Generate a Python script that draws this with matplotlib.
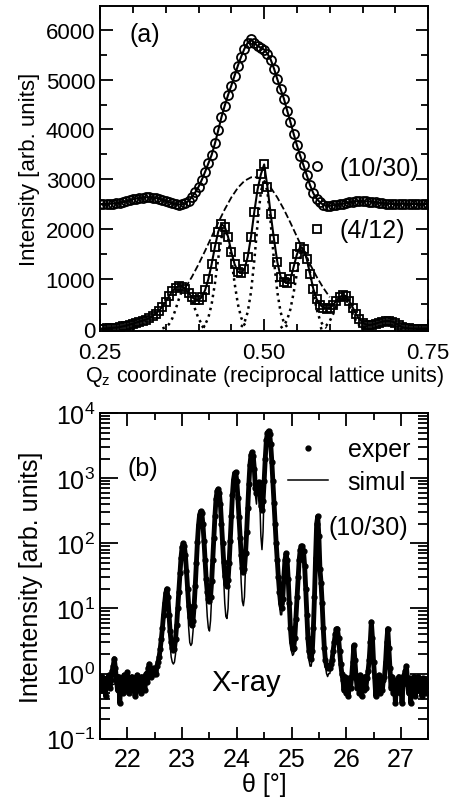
import matplotlib
matplotlib.use('Agg')
import matplotlib.pyplot as plt
import numpy as np
from matplotlib.ticker import MultipleLocator, LogLocator, NullFormatter
from matplotlib.lines import Line2D

plt.rcParams['font.family'] = ['Liberation Sans', 'DejaVu Sans']
plt.rcParams['mathtext.fontset'] = 'custom'
plt.rcParams['mathtext.rm'] = 'Liberation Sans'
plt.rcParams['mathtext.it'] = 'Liberation Sans:italic'

# ---- panel (a): Qz scans ----
qz = np.round(np.arange(0.25, 0.7501, 0.005), 3)

int_10_30 = [
    2500, 2500, 2505, 2510, 2515, 2520, 2530, 2545, 2560, 2580,
    2600, 2615, 2625, 2635, 2640, 2640, 2635, 2625, 2610, 2590,
    2570, 2545, 2520, 2505, 2495, 2500, 2520, 2570, 2650, 2740,
    2850, 2990, 3150, 3320, 3490, 3720, 3980, 4250, 4480, 4690,
    4880, 5080, 5280, 5460, 5620, 5740, 5810, 5740, 5670, 5640,
    5600, 5520, 5400, 5220, 5010, 4810, 4620, 4380, 4150, 3910,
    3680, 3470, 3280, 3080, 2880, 2720, 2610, 2540, 2490, 2470,
    2470, 2480, 2490, 2500, 2510, 2525, 2540, 2550, 2560, 2565,
    2565, 2560, 2555, 2550, 2540, 2530, 2520, 2515, 2510, 2505,
    2505, 2505, 2510, 2510, 2505, 2505, 2505, 2505, 2505, 2505,
    2505,
]

int_4_12 = [
    10, 10, 15, 20, 25, 30, 40, 55, 70, 90,
    110, 130, 150, 170, 190, 220, 260, 310, 370, 450,
    550, 660, 760, 830, 860, 850, 800, 720, 640, 590,
    580, 640, 780, 1000, 1300, 1650, 1950, 2100, 2050, 1850,
    1550, 1300, 1150, 1120, 1200, 1450, 1850, 2350, 2800, 3100,
    3300, 2850, 2300, 1800, 1350, 1050, 950, 920, 1000, 1250,
    1500, 1650, 1600, 1400, 1100, 800, 600, 490, 430, 410,
    420, 480, 570, 640, 680, 660, 560, 430, 300, 200,
    130, 90, 80, 90, 110, 130, 150, 160, 160, 150,
    120, 80, 40, 20, 15, 10, 10, 10, 10, 10,
    10,
]

# dashed envelope
env_q = np.round(np.arange(0.38, 0.6001, 0.01), 2)
env_int = [827, 1048, 1297, 1567, 1850, 2132, 2400, 2638, 2833, 2970, 3041,
           3041, 2970, 2833, 2638, 2400, 2132, 1850, 1567, 1297, 1048, 827, 638]

# dotted components (centres 0.38, 0.44, 0.50, 0.56, 0.62)
comp_offsets = np.round(np.arange(-0.035, 0.0351, 0.005), 3)
comp_centres = [0.38, 0.44, 0.50, 0.56, 0.62]
comp_int = [
    [12, 37, 97, 212, 389, 601, 779, 850, 779, 601, 389, 212, 97, 37, 12],
    [28, 88, 228, 498, 916, 1414, 1834, 2000, 1834, 1414, 916, 498, 228, 88, 28],
    [42, 132, 342, 747, 1374, 2121, 2751, 3000, 2751, 2121, 1374, 747, 342, 132, 42],
    [22, 70, 182, 398, 733, 1131, 1467, 1600, 1467, 1131, 733, 398, 182, 70, 22],
    [9, 29, 74, 162, 298, 460, 596, 650, 596, 460, 298, 162, 74, 29, 9],
]

# ---- panel (b): X-ray theta scan ----
theta = np.round(np.arange(21.5, 27.501, 0.02), 2)

exper = [
    0.75, 0.55, 0.9, 0.6, 0.8, 0.45, 0.85, 0.65, 0.95, 0.6,
    0.8, 1.1, 1.3, 1.7, 1.2, 0.8, 0.55, 0.9, 0.35, 0.7,
    0.85, 0.5, 0.95, 0.6, 0.75, 1.05, 0.5, 0.8, 0.65, 0.9,
    0.55, 0.85, 0.45, 0.75, 0.95, 0.6, 0.8, 0.5, 0.9, 0.7,
    0.85, 0.55, 1.0, 0.75, 1.2, 1.4, 1.1, 0.9, 1.2, 1.0,
    1.1, 1.0, 1.3, 1.5, 1.8, 2.4, 3.4, 5, 8, 12,
    17, 20, 15, 8, 4.5, 3.0, 2.5, 2.3, 2.4, 3.4,
    5.5, 10, 18, 35, 60, 88, 100, 92, 65, 38,
    20, 11, 7.5, 6, 5.5, 6.5, 11, 22, 50, 105,
    190, 275, 310, 290, 200, 110, 55, 28, 18, 14,
    13, 15, 26, 55, 120, 260, 480, 640, 680, 600,
    400, 200, 100, 52, 32, 24, 22, 27, 50, 110,
    260, 560, 950, 1200, 1230, 900, 500, 250, 120, 65,
    42, 36, 40, 70, 150, 350, 800, 1600, 2300, 2500,
    2200, 1400, 700, 600, 850, 870, 600, 380, 330, 450,
    900, 2000, 3800, 5000, 5300, 4800, 3300, 1800, 900, 420,
    200, 100, 55, 30, 18, 12, 10, 14, 30, 55,
    70, 55, 28, 12, 5, 3, 2.4, 2.5, 3.5, 7,
    15, 30, 55, 80, 90, 90, 75, 45, 20, 8,
    3.5, 2.2, 1.8, 1.7, 2.2, 5, 15, 60, 200, 260,
    130, 40, 25, 12, 5, 2.5, 1.6, 1.3, 1.2, 1.3,
    1.2, 1.4, 1.6, 2.2, 3.0, 4.0, 4.8, 4.9, 3.5, 2.2,
    1.4, 1.0, 0.8, 0.55, 0.9, 0.5, 0.75, 0.45, 0.85, 0.6,
    0.9, 1.5, 2.7, 1.6, 0.9, 0.6, 0.8, 0.5, 0.95, 0.45,
    0.8, 0.55, 0.9, 0.6, 0.85, 1.1, 1.6, 3.0, 6.2, 3.5,
    1.5, 0.9, 0.45, 0.8, 0.6, 0.95, 0.5, 0.85, 0.55, 0.8,
    0.9, 1.5, 3.0, 4.9, 2.5, 1.2, 0.6, 0.9, 0.5, 0.8,
    0.35, 0.75, 0.55, 0.9, 0.5, 0.85, 0.35, 0.7, 0.95, 1.1,
    1.3, 0.8, 0.5, 0.85, 0.35, 0.75, 0.6, 0.9, 0.45, 0.8,
    0.55, 0.9, 0.6, 0.75, 0.45, 0.85, 0.6, 0.8, 0.5, 0.7,
    0.65,
]

simul = [
    0.55, 0.56, 0.57, 0.58, 0.6, 0.61, 0.62, 0.63, 0.64, 0.65,
    0.66, 0.67, 0.68, 0.69, 0.7, 0.7, 0.71, 0.72, 0.72, 0.73,
    0.74, 0.74, 0.75, 0.76, 0.77, 0.78, 0.79, 0.8, 0.81, 0.82,
    0.83, 0.84, 0.85, 0.86, 0.87, 0.88, 0.89, 0.9, 0.91, 0.92,
    0.93, 0.94, 0.95, 0.97, 0.98, 1.0, 1.02, 1.05, 1.1, 1.15,
    1.2, 1.3, 1.4, 1.5, 1.7, 2.0, 2.6, 4.0, 7.0, 12,
    17, 20, 14, 6, 2.8, 1.8, 1.5, 1.4, 1.5, 2.0,
    3.5, 7, 15, 32, 60, 88, 100, 90, 60, 30,
    12, 5, 3, 2.7, 2.9, 4.5, 9, 20, 48, 105,
    190, 275, 310, 290, 190, 95, 40, 15, 7.5, 5,
    4.5, 6.5, 15, 45, 115, 260, 480, 640, 680, 590,
    380, 180, 75, 28, 12, 7.5, 7, 10, 30, 100,
    250, 560, 950, 1200, 1230, 880, 460, 200, 70, 25,
    13, 11, 15, 45, 140, 340, 800, 1600, 2300, 2500,
    2150, 1300, 550, 400, 800, 870, 450, 130, 80, 150,
    700, 2000, 3800, 5000, 5300, 4700, 3100, 1600, 750, 330,
    150, 70, 35, 18, 11, 8, 8, 12, 28, 55,
    70, 50, 22, 8, 3.5, 2.2, 1.9, 2.0, 3.0, 6,
    14, 30, 55, 80, 90, 88, 70, 40, 16, 6,
    2.6, 1.6, 1.3, 1.3, 1.8, 4.5, 15, 60, 200, 260,
    120, 35, 22, 10, 4, 2.0, 1.3, 1.0, 0.9, 1.0,
    1.0, 1.2, 1.5, 2.0, 2.8, 3.8, 4.6, 4.7, 3.2, 1.9,
    1.1, 0.8, 0.7, 0.65, 0.65, 0.65, 0.66, 0.68, 0.7, 0.75,
    0.9, 1.4, 2.3, 1.4, 0.85, 0.7, 0.65, 0.64, 0.64, 0.65,
    0.66, 0.67, 0.68, 0.7, 0.75, 0.9, 1.4, 2.8, 5.5, 3.0,
    1.3, 0.8, 0.68, 0.65, 0.64, 0.64, 0.65, 0.66, 0.68, 0.72,
    0.85, 1.3, 2.6, 4.4, 2.2, 1.0, 0.7, 0.65, 0.63, 0.63,
    0.62, 0.62, 0.63, 0.64, 0.66, 0.7, 0.78, 0.9, 1.0, 1.1,
    1.15, 0.9, 0.72, 0.65, 0.62, 0.61, 0.6, 0.6, 0.6, 0.6,
    0.6, 0.6, 0.6, 0.6, 0.6, 0.6, 0.6, 0.6, 0.6, 0.6,
    0.6,
]


def style_axes(ax, size):
    for s in ax.spines.values():
        s.set_linewidth(1.4)
    ax.tick_params(which='both', direction='in', top=True, right=True,
                   width=1.3, labelsize=size)
    ax.tick_params(which='major', length=9)
    ax.tick_params(which='minor', length=5)


fig = plt.figure(figsize=(4.59, 8.04), dpi=100)

# panel (a)
ax1 = fig.add_axes([0.218, 0.587, 0.715, 0.404])
ax1.plot(qz, int_10_30, '-', color='black', lw=1.5, marker='o', ms=6.5,
         mfc='none', mec='black', mew=1.3)
ax1.plot(qz, int_4_12, '-', color='black', lw=1.5, marker='s', ms=6,
         mfc='none', mec='black', mew=1.3)
ax1.plot(env_q, env_int, '--', color='black', lw=1.3)
for c, vals in zip(comp_centres, comp_int):
    ax1.plot(c + comp_offsets, vals, ':', color='black', lw=1.8)
ax1.set_xlim(0.25, 0.75)
ax1.set_ylim(-40, 6470)
ax1.xaxis.set_major_locator(MultipleLocator(0.25))
ax1.xaxis.set_minor_locator(MultipleLocator(0.05))
ax1.yaxis.set_major_locator(MultipleLocator(1000))
ax1.yaxis.set_minor_locator(MultipleLocator(500))
ax1.xaxis.set_major_formatter(plt.FormatStrFormatter('%.2f'))
style_axes(ax1, 16)
ax1.tick_params(axis='x', pad=8)
ax1.set_xlabel('Q$_\\mathregular{z}$ coordinate (reciprocal lattice units)', fontsize=15.5, labelpad=0)
ax1.set_ylabel('Intensity [arb. units]', fontsize=16, labelpad=4)
ax1.text(0.09, 0.915, '(a)', transform=ax1.transAxes, fontsize=18, va='center')
h1 = [Line2D([], [], ls='none', marker='o', ms=6.5, mfc='none', mec='black', mew=1.3),
      Line2D([], [], ls='none', marker='s', ms=6, mfc='none', mec='black', mew=1.3)]
ax1.legend(h1, ['(10/30)', '(4/12)'], loc='upper left', bbox_to_anchor=(0.63, 0.54),
           frameon=False, handlelength=0.8, handletextpad=0.5, labelspacing=1.55,
           fontsize=18, borderpad=0, borderaxespad=0)

# panel (b)
ax2 = fig.add_axes([0.218, 0.080, 0.715, 0.405])
ax2.plot(theta, exper, '-', color='black', lw=3.5, marker='o', ms=3.5,
         mec='black', mfc='black')
ax2.plot(theta, simul, '-', color='black', lw=1.1)
ax2.set_yscale('log')
ax2.set_xlim(21.5, 27.5)
ax2.set_ylim(0.1, 1e4)
ax2.xaxis.set_major_locator(MultipleLocator(1))
ax2.xaxis.set_minor_locator(MultipleLocator(0.5))
ax2.yaxis.set_major_locator(LogLocator(base=10, numticks=10))
ax2.yaxis.set_minor_locator(LogLocator(base=10, subs=np.arange(2, 10), numticks=10))
ax2.yaxis.set_minor_formatter(NullFormatter())
style_axes(ax2, 18)
ax2.tick_params(axis='y', which='major', length=13)
ax2.tick_params(axis='y', which='minor', length=7)
ax2.tick_params(axis='x', pad=6)
ax2.set_xlabel('θ [°]', fontsize=18, labelpad=1)
ax2.set_ylabel('Intentensity [arb. units]', fontsize=18, labelpad=2)
ax2.text(0.085, 0.83, '(b)', transform=ax2.transAxes, fontsize=18, va='center')
ax2.text(0.34, 0.175, 'X-ray', transform=ax2.transAxes, fontsize=21, va='center')
ax2.text(0.94, 0.65, '(10/30)', transform=ax2.transAxes, fontsize=18,
         va='center', ha='right')
h2 = [Line2D([], [], ls='none', marker='o', ms=3.5, color='black'),
      Line2D([], [], ls='-', lw=1.1, color='black')]
ax2.legend(h2, ['exper', 'simul'], loc='upper right', bbox_to_anchor=(0.945, 0.925),
           frameon=False, handlelength=1.6, handletextpad=0.8, labelspacing=0.35,
           fontsize=18, borderpad=0, borderaxespad=0)

fig.savefig('out.png', dpi=100)
